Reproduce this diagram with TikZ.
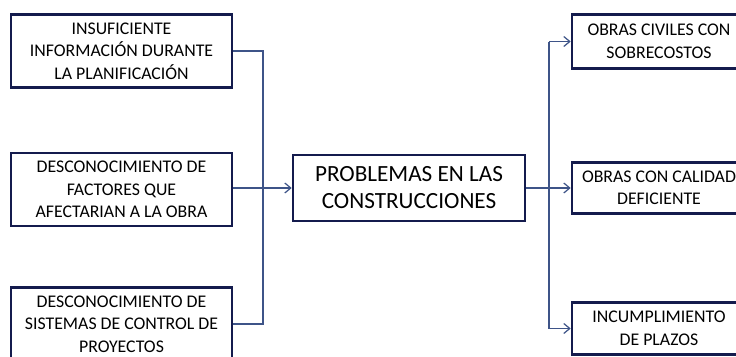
\documentclass[tikz,border=0pt]{standalone}
\usepackage{fontspec}
\setmainfont{Carlito}
\usetikzlibrary{arrows.meta}
\definecolor{boxnavy}{HTML}{141B4D}
\definecolor{linkblue}{HTML}{3E5488}
\begin{document}
\begin{tikzpicture}[x=1pt, y=-1pt,
  box/.style={draw=boxnavy, line width=2.6pt, fill=white, align=center, inner sep=0pt, font=\fontsize{17.8}{22.5}\selectfont},
  cause/.style={box, minimum width=221pt, minimum height=73pt},
  effect/.style={box, minimum width=174pt},
  problem/.style={box, minimum width=232pt, minimum height=66pt, font=\fontsize{23.2}{27}\selectfont},
  link/.style={draw=linkblue, line width=1.2pt},
  tip/.style={link, -{Straight Barb[length=6pt, width=10pt, line width=1.2pt]}}]
  \useasboundingbox (0,0) rectangle (736,356);
  \begin{scope}
  \clip (0,0) rectangle (736,356);
  \node[cause] (c1) at (121.5,51) {INSUFICIENTE\\INFORMACIÓN DURANTE\\LA PLANIFICACIÓN};
  \node[cause] (c2) at (121.5,189.5) {DESCONOCIMIENTO DE\\FACTORES QUE\\AFECTARIAN A LA OBRA};
  \node[cause] (c3) at (121.5,324) {DESCONOCIMIENTO DE\\SISTEMAS DE CONTROL DE\\PROYECTOS};
  \node[problem] (prob) at (409,188) {PROBLEMAS EN LAS\\CONSTRUCCIONES};
  \node[effect, minimum height=54pt] (e1) at (659,41.5) {OBRAS CIVILES CON\\SOBRECOSTOS};
  \node[effect, minimum height=51pt] (e2) at (659,188) {OBRAS CON CALIDAD\\DEFICIENTE};
  \node[effect, minimum height=52pt] (e3) at (659,328.5) {INCUMPLIMIENTO\\DE PLAZOS};
  \coordinate (jl) at (263,188);
  \coordinate (jr) at (549,188);
  \draw[link] (c1.east) -- (c1.east -| jl) -- (c3.east -| jl) -- (c3.east);
  \draw[tip] (c2.east |- prob.west) -- (prob.west);
  \draw[link] (prob.east) -- (jr);
  \draw[link] (e1.west -| jr) -- (e3.west -| jr);
  \foreach \e in {e1,e2,e3} {\draw[tip] (\e.west -| jr) -- (\e.west);}
  \end{scope}
\end{tikzpicture}
\end{document}
